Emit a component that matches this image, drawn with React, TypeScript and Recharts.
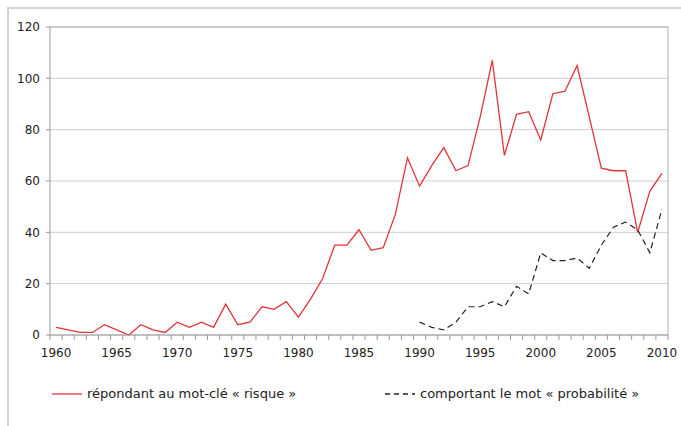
import { LineChart, Line, XAxis, YAxis, CartesianGrid, ReferenceLine, Legend } from 'recharts';

const years = [
  1960, 1961, 1962, 1963, 1964, 1965, 1966, 1967, 1968, 1969,
  1970, 1971, 1972, 1973, 1974, 1975, 1976, 1977, 1978, 1979,
  1980, 1981, 1982, 1983, 1984, 1985, 1986, 1987, 1988, 1989,
  1990, 1991, 1992, 1993, 1994, 1995, 1996, 1997, 1998, 1999,
  2000, 2001, 2002, 2003, 2004, 2005, 2006, 2007, 2008, 2009, 2010,
];

const risque = [
  3, 2, 1, 1, 4, 2, 0, 4, 2, 1,
  5, 3, 5, 3, 12, 4, 5, 11, 10, 13,
  7, 14, 22, 35, 35, 41, 33, 34, 47, 69,
  58, 66, 73, 64, 66, 85, 107, 70, 86, 87,
  76, 94, 95, 105, 85, 65, 64, 64, 40, 56, 63,
];

const probabilite: (number | null)[] = [
  null, null, null, null, null, null, null, null, null, null,
  null, null, null, null, null, null, null, null, null, null,
  null, null, null, null, null, null, null, null, null, null,
  5, 3, 2, 5, 11, 11, 13, 11, 19, 16,
  32, 29, 29, 30, 26, 35, 42, 44, 41, 32, 49,
];

const yTicks = [0, 20, 40, 60, 80, 100, 120];

const labelA = 'répondant au mot-clé « risque »';
const labelB = 'comportant le mot « probabilité »';

const FONT = '"DejaVu Sans", Verdana, sans-serif';
const RED = '#e3343a';
const DARK = '#222';
const HALF = 6.06; // half a year in px

const data = years.map((y, i) => ({ year: y, risque: risque[i], proba: probabilite[i] }));

function YearTick(props: any) {
  const { x, y, payload } = props;
  const yr = payload.value as number;
  return (
    <g>
      <line x1={x - HALF} x2={x - HALF} y1={y} y2={y + 5} stroke="#999" />
      {yr === 2010 && <line x1={x + HALF} x2={x + HALF} y1={y} y2={y + 5} stroke="#999" />}
      {yr % 5 === 0 && (
        <text x={x} y={y + 22} textAnchor="middle" fontSize={12} fontFamily={FONT} fill="#222">
          {yr}
        </text>
      )}
    </g>
  );
}

function LegendBox() {
  const items = [
    { label: labelA, color: RED, dash: undefined, left: 52 },
    { label: labelB, color: DARK, dash: '5 4', left: 385 },
  ];
  return (
    <div style={{ position: 'relative', width: 681, height: 20, fontFamily: FONT, fontSize: 13, color: '#222' }}>
      {items.map((it, i) => (
        <div key={i} style={{ position: 'absolute', left: it.left, top: 0, display: 'flex', alignItems: 'center', whiteSpace: 'nowrap' }}>
          <svg width={32} height={10}>
            <line x1={0} x2={30} y1={5} y2={5} stroke={it.color} strokeWidth={1.3} strokeDasharray={it.dash} />
          </svg>
          <span style={{ marginLeft: 3 }}>{it.label}</span>
        </div>
      ))}
    </div>
  );
}

export default function App() {
  return (
    <div style={{ position: 'absolute', left: 0, top: 0, width: 681, height: 426, background: '#fff' }}>
      <div style={{ position: 'absolute', left: 7, top: 7, width: 700, height: 440, borderTop: '2px solid #d4d4d4', borderLeft: '2px solid #d4d4d4' }} />
      <LineChart width={681} height={426} data={data} margin={{ top: 27, right: 13, left: 0, bottom: 61 }}>
        <CartesianGrid vertical={false} stroke="#cfcfcf" />
        <XAxis dataKey="year" type="number" domain={[1959.5, 2010.5]} ticks={years} interval={0}
          tick={<YearTick />} tickLine={false} tickSize={0} tickMargin={0} height={30}
          axisLine={{ stroke: '#999' }} />
        <YAxis domain={[0, 120]} ticks={yTicks} width={50} tickSize={4} tickMargin={6}
          tick={{ fontSize: 12, fontFamily: FONT, fill: '#222' }}
          tickLine={{ stroke: '#999' }} axisLine={{ stroke: '#999' }} />
        <ReferenceLine x={2010.5} stroke="#b0b0b0" />
        <ReferenceLine y={120} stroke="#b0b0b0" />
        <Line dataKey="risque" name={labelA} stroke={RED} strokeWidth={1.3} dot={false} isAnimationActive={false} />
        <Line dataKey="proba" name={labelB} stroke={DARK} strokeWidth={1.2} strokeDasharray="6 4" dot={false} isAnimationActive={false} />
        <Legend layout="horizontal" verticalAlign="middle" align="center" content={<LegendBox />}
          wrapperStyle={{ position: 'absolute', left: 0, top: 386, width: 681 }} />
      </LineChart>
    </div>
  );
}
